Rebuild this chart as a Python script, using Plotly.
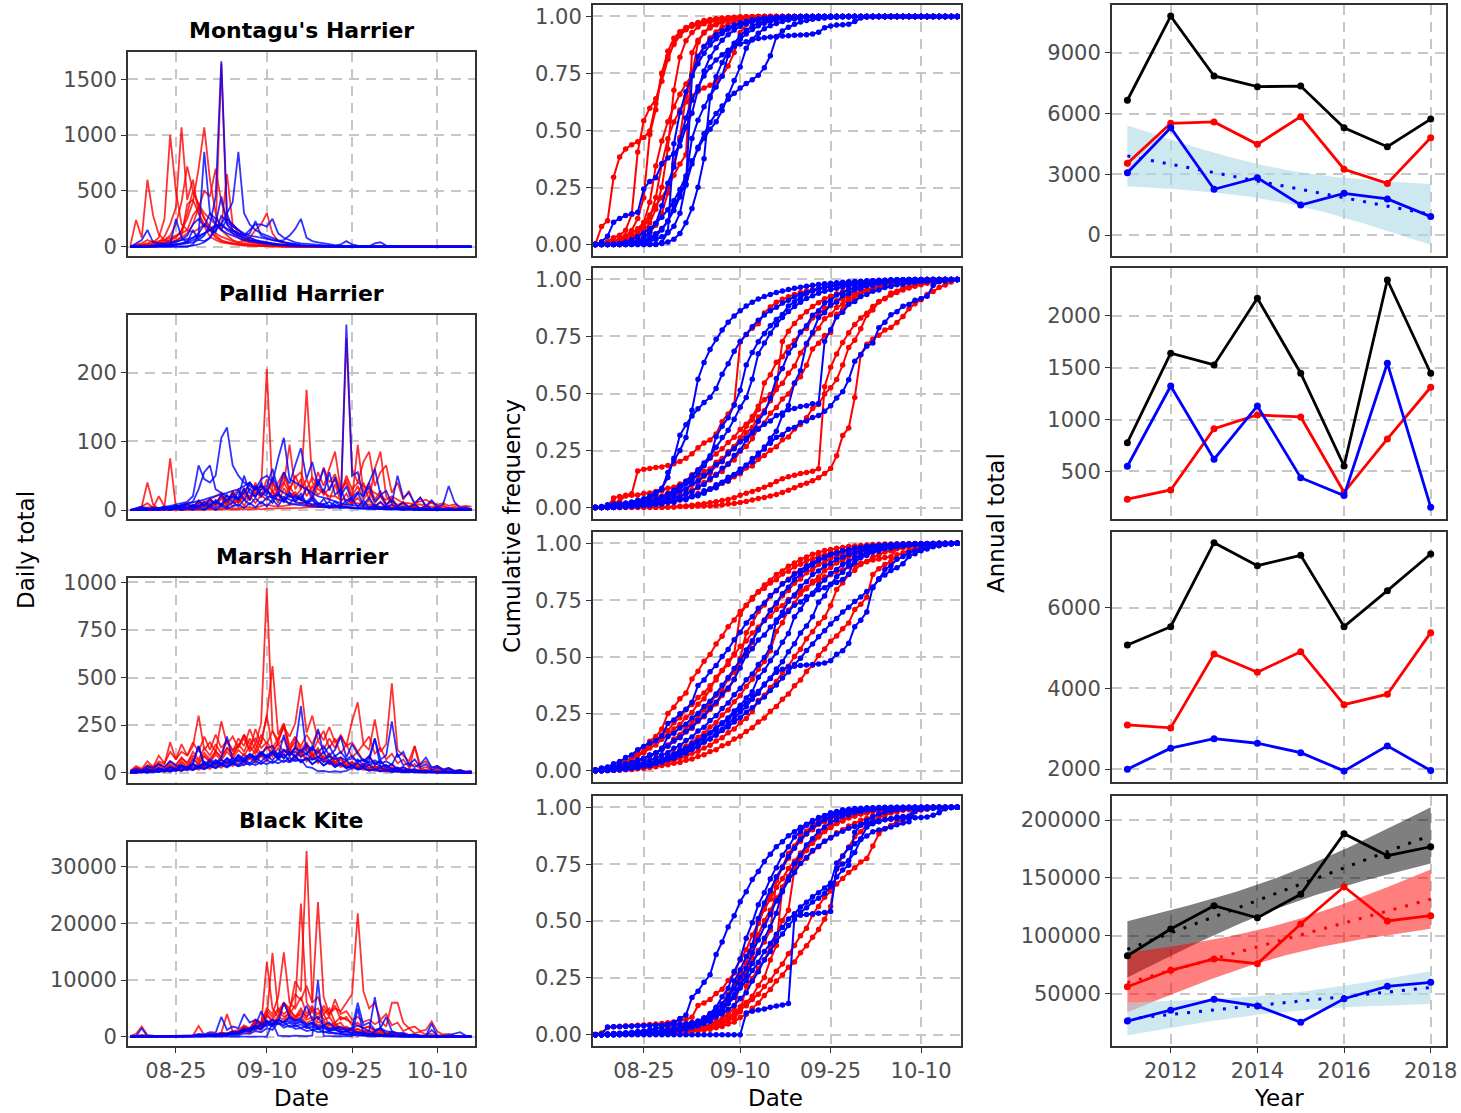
import datetime as dt
import numpy as np
import plotly.graph_objects as go

# ------------------------------------------------------------------ data
SPECIES = ["Montagu's Harrier", "Pallid Harrier", "Marsh Harrier", "Black Kite"]
YEARS = [2011, 2012, 2013, 2014, 2015, 2016, 2017, 2018]
FIRST_DAY = dt.date(2019, 8, 17)
N_DAYS = 61
DATE_TICKS = ["2019-08-25", "2019-09-10", "2019-09-25", "2019-10-10"]
DATE_TICK_TEXT = ["08-25", "09-10", "09-25", "10-10"]
YEAR_TICKS = [2012, 2014, 2016, 2018]
DAILY_YTICKS = [[0, 500, 1000, 1500], [0, 100, 200], [0, 250, 500, 750, 1000], [0, 10000, 20000, 30000]]
CUM_YTICKS = [0, 0.25, 0.5, 0.75, 1.0]
ANNUAL_YTICKS = [[0, 3000, 6000, 9000], [500, 1000, 1500, 2000], [2000, 4000, 6000], [50000, 100000, 150000, 200000]]

# daily counts, Aug 17 .. Oct 16 (one list per year)
MONTAGU_RED = [
    [10,240,80,600,280,110,60,40,60,90, 380,420,300,180,90,60,40,30,25,15, 10,8,6,5,4,3,2,2,1,1, 0,1,0,0,0,0,0,0,0,0, 0,0,0,0,0,0,0,0,0,0, 0,0,0,0,0,0,0,0,0,0,0],
    [0,20,30,60,40,80,250,1000,500,200, 150,280,350,260,150,80,50,40,30,20, 15,10,8,6,5,4,3,2,1,1, 1,0,0,0,0,0,0,0,0,0, 0,0,0,0,0,0,0,0,0,0, 0,0,0,0,0,0,0,0,0,0,0],
    [0,10,20,30,50,40,90,200,350,1070, 420,600,300,200,150,100,60,40,30,25, 20,15,10,8,5,4,3,2,2,1, 0,0,0,0,0,0,0,0,0,0, 0,0,0,0,0,0,0,0,0,0, 0,0,0,0,0,0,0,0,0,0,0],
    [0,5,10,20,15,30,60,100,200,400, 720,500,380,300,250,200,180,650,200,120, 60,40,30,20,15,10,8,5,3,2, 1,1,0,0,0,0,0,0,0,0, 0,0,0,0,0,0,0,0,0,0, 0,0,0,0,0,0,0,0,0,0,0],
    [0,0,5,10,20,30,40,60,80,150, 250,400,700,1070,600,300,150,100,60,40, 30,20,15,10,8,5,3,2,1,1, 0,0,0,0,0,0,0,0,0,0, 0,0,0,0,0,0,0,0,0,0, 0,0,0,0,0,0,0,0,0,0,0],
    [0,0,0,5,10,15,20,30,50,80, 120,200,350,500,450,700,400,250,200,150, 100,80,60,40,30,20,15,10,5,3, 2,1,1,0,0,0,0,0,0,0, 0,0,0,0,0,0,0,0,0,0, 0,0,0,0,0,0,0,0,0,0,0],
    [0,5,10,15,20,25,40,60,90,140, 300,500,380,250,180,120,90,70,50,40, 60,80,150,200,300,120,50,30,20,10, 5,3,2,1,1,0,0,0,0,0, 0,0,0,0,0,0,0,0,0,0, 0,0,0,0,0,0,0,0,0,0,0],
    [0,5,10,20,30,50,60,80,100,120, 150,130,160,200,180,150,1640,200,120,80, 50,40,30,20,15,10,8,5,3,2, 1,1,0,0,0,0,0,0,0,0, 0,0,0,0,0,0,0,0,0,0, 0,0,0,0,0,0,0,0,0,0,0],
]
MONTAGU_BLUE = [
    [0,0,0,0,0,0,5,10,15,20, 30,40,60,100,200,450,1660,300,150,100, 80,60,50,40,30,25,20,15,10,8, 6,5,4,3,2,2,1,1,0,0, 0,0,0,0,0,0,0,0,0,0, 0,0,0,0,0,0,0,0,0,0,0],
    [0,0,0,0,0,0,0,0,0,0, 0,20,100,850,300,200,150,120,100,80, 60,50,40,30,25,20,15,10,8,5, 4,3,2,1,1,0,0,0,0,0, 0,0,0,0,0,0,0,0,0,0, 0,0,0,0,0,0,0,0,0,0,0],
    [0,0,0,0,0,0,0,0,0,0, 5,10,20,40,80,150,200,300,400,850, 300,200,150,120,100,80,60,40,30,20, 15,10,8,5,3,2,1,1,0,0, 0,0,0,0,0,0,0,0,0,0, 0,0,0,0,0,0,0,0,0,0,0],
    [0,30,60,150,40,30,20,15,250,80, 40,150,60,50,80,200,150,250,200,150, 100,80,60,50,40,30,20,15,10,8, 6,5,4,3,2,1,1,0,0,0, 0,0,0,0,0,0,0,0,0,0, 0,0,0,0,0,0,0,0,0,0,0],
    [0,0,0,0,0,5,10,15,20,30, 40,60,80,120,150,200,450,200,150,120, 100,120,230,100,80,60,50,40,30,20, 15,10,8,6,5,4,3,2,1,1, 0,0,0,0,0,0,0,0,0,0, 0,0,0,0,0,0,0,0,0,0,0],
    [0,0,0,5,10,20,30,40,50,60, 70,80,100,120,150,180,200,160,140,120, 100,150,200,200,180,250,120,80,60,40, 30,25,20,15,10,8,5,4,3,2, 1,1,0,0,0,0,0,0,0,0, 0,0,0,0,0,0,0,0,0,0,0],
    [0,0,0,0,0,0,5,10,20,30, 50,80,120,200,150,130,280,220,180,150, 120,100,90,80,70,60,50,60,100,160, 250,80,50,40,30,20,15,10,8,6, 5,4,3,2,1,0,0,0,0,0, 0,0,0,0,0,0,0,0,0,0,0],
    [0,0,0,0,0,5,10,20,40,60, 100,200,250,180,300,250,200,150,120,100, 80,60,50,40,30,25,20,15,10,8, 6,5,4,3,3,4,8,20,50,20, 10,5,4,30,40,10,5,2,1,0, 0,0,0,0,0,0,0,0,0,0,0],
]
PALLID_RED = [
    [0,2,5,10,3,20,5,75,5,3, 3,2,5,5,8,10,15,20,15,10, 20,40,25,30,205,25,20,15,35,20, 15,10,8,8,6,5,5,4,4,3, 3,3,2,2,2,2,1,1,1,1, 1,1,1,0,0,1,0,0,0,0,0],
    [0,0,0,0,0,0,0,0,0,0, 0,0,1,1,2,1,2,3,2,3, 3,4,3,5,8,6,5,6,7,8, 10,8,6,5,5,3,4,8,250,60, 40,35,30,25,20,15,20,15,10,10, 8,8,6,5,5,4,3,3,2,2,2],
    [0,0,0,0,0,1,0,0,0,0, 0,0,0,0,1,0,0,1,0,0, 1,1,2,1,2,2,3,3,2,3, 3,4,4,5,5,4,5,6,8,10, 25,40,15,60,85,20,10,8,10,5, 10,12,15,10,8,10,6,8,5,6,5],
    [0,1,2,3,5,2,4,3,6,5, 8,6,10,12,15,20,25,15,20,30, 15,20,25,20,30,20,30,40,25,20, 30,175,40,30,25,20,20,15,15,10, 10,8,8,6,5,5,4,3,3,2, 2,2,2,1,1,1,1,1,0,0,0],
    [0,0,2,0,3,1,5,1,6,2, 9,3,12,5,16,6,22,10,28,12, 30,15,40,20,45,25,40,55,28,50, 30,45,25,55,35,60,85,30,40,15, 95,25,40,15,28,8,18,5,12,3, 8,2,6,1,4,1,3,1,1,0,1],
    [0,0,0,2,0,3,0,4,1,4, 2,7,3,9,2,12,4,15,5,18, 6,20,10,22,14,28,10,32,18,26, 16,34,14,38,22,32,45,20,50,30, 40,70,85,35,55,65,25,40,15,28, 8,18,5,12,3,7,2,5,1,3,1],
    [0,1,5,40,8,2,4,1,7,2, 8,3,12,5,16,8,20,6,26,12, 32,18,22,36,28,40,24,50,30,48, 55,30,48,35,62,40,52,28,45,20, 35,15,28,10,20,6,14,4,10,2, 7,2,5,1,4,1,3,0,2,0,1],
    [0,0,2,0,3,0,5,1,6,2, 8,2,10,4,15,6,20,5,24,10, 28,14,36,18,32,42,22,38,95,30, 45,20,35,22,30,14,38,12,24,8, 18,6,14,5,11,4,8,2,6,2, 5,1,4,1,3,1,2,0,1,0,1],
]
PALLID_BLUE = [
    [0,2,3,2,1,3,4,6,8,10, 12,20,65,45,40,50,105,120,65,50, 40,35,30,25,20,18,15,12,10,8, 7,6,6,5,4,4,3,3,3,2, 2,2,2,1,1,1,1,1,1,1, 1,0,1,0,0,0,0,0,0,0,0],
    [0,0,2,0,3,1,5,2,7,3, 9,4,14,6,16,9,22,12,25,15, 32,14,35,20,30,16,26,12,22,14, 24,10,14,6,9,3,8,2,270,50, 55,20,35,12,22,8,15,5,11,4, 8,2,6,2,4,1,3,1,2,1,1],
    [0,1,0,2,3,2,4,3,5,6, 8,10,12,15,18,20,22,25,28,30, 35,40,30,45,50,40,75,105,45,40, 35,30,25,20,18,15,12,10,8,7, 6,5,5,4,4,3,3,2,2,2, 1,1,1,1,1,1,0,0,0,0,0],
    [0,0,0,2,0,3,0,5,1,7, 3,8,4,12,4,15,8,22,10,28, 14,32,18,40,22,48,30,55,38,65, 90,45,70,35,60,28,48,20,35,12, 25,8,18,5,12,3,8,2,5,1, 3,1,2,0,1,0,1,0,0,0,0],
    [0,0,0,0,2,0,2,0,3,0, 4,1,6,1,8,3,9,4,12,5, 15,8,17,9,18,10,24,12,26,12, 20,8,18,6,16,5,12,6,14,18, 26,20,40,60,22,28,10,50,18,25, 10,18,6,14,5,8,35,12,3,4,1],
    [0,3,5,2,1,2,3,5,4,8, 10,12,30,55,65,30,25,20,18,15, 25,40,30,35,28,20,22,18,15,12, 10,12,8,10,6,5,6,4,5,3, 3,3,2,2,2,1,1,1,1,1, 1,1,0,1,0,0,0,0,0,0,0],
    [0,0,1,0,2,1,2,1,3,2, 4,5,6,8,10,12,8,15,20,18, 50,25,20,30,35,60,30,25,20,18, 15,12,20,10,8,12,6,5,4,3, 3,2,2,2,1,1,1,1,0,1, 0,0,1,0,0,0,0,0,0,0,0],
    [0,0,0,2,0,0,2,0,2,0, 2,0,3,0,5,0,6,2,5,8, 3,10,4,12,5,15,6,18,8,22, 14,32,20,45,25,55,22,30,10,16, 5,14,3,8,2,6,1,4,1,3, 0,2,0,1,0,1,0,0,0,0,0],
]
MARSH_RED = [
    [10,35,20,60,30,90,50,110,70,150, 90,160,110,190,120,200,130,170,110,180, 140,230,150,260,970,220,150,180,90,130, 80,140,70,110,60,90,40,70,30,50, 25,40,20,30,15,20,10,15,8,10, 6,8,4,5,3,4,2,3,2,2,1],
    [5,15,10,30,20,45,25,60,40,80, 50,110,70,130,90,150,100,170,120,140, 180,120,230,150,300,560,200,260,140,190, 120,160,90,130,70,100,50,80,40,55, 35,45,25,30,20,22,12,15,8,10, 6,7,4,5,3,3,2,2,1,1,1],
    [0,8,3,18,6,25,12,40,20,50, 30,75,45,90,60,110,80,130,95,150, 110,180,120,200,150,220,170,240,190,260, 460,210,300,170,220,130,180,100,150,80, 110,60,90,45,60,30,45,20,30,15, 20,10,14,6,9,4,5,3,3,1,1],
    [0,0,8,3,14,6,20,10,28,15, 35,20,45,30,55,38,70,45,80,60, 100,70,120,85,140,100,160,250,120,180, 140,200,150,220,170,240,160,190,140,270, 370,150,190,100,130,70,100,50,70,30, 45,20,30,12,20,8,12,5,8,3,4],
    [0,0,0,6,2,12,5,14,8,20, 12,28,15,30,20,45,25,55,35,65, 40,80,50,90,60,100,75,120,85,140, 100,150,110,170,120,180,130,200,140,160, 110,150,120,280,110,150,470,120,90,60, 140,40,60,25,35,15,25,10,15,6,8],
    [10,25,15,40,30,60,45,160,70,110, 90,140,300,120,160,110,270,150,190,130, 200,150,180,130,160,120,150,110,130,90, 110,70,90,60,70,45,55,30,40,20, 25,15,18,10,12,6,8,4,5,3, 3,2,2,1,1,1,0,1,0,0,0],
    [5,15,8,25,12,35,18,45,25,60, 35,70,45,85,55,95,65,110,75,120, 90,140,100,160,300,130,180,250,120,160, 100,140,85,120,70,100,55,80,40,60, 30,45,22,35,15,25,10,18,6,12, 4,8,3,5,2,3,1,2,1,1,1],
    [10,25,15,35,20,50,30,60,40,75, 50,90,60,105,70,115,80,130,90,140, 200,110,150,95,140,85,130,75,120,70, 110,60,100,50,90,45,75,40,60,35, 50,30,45,25,35,20,30,15,25,10, 140,20,15,10,8,6,5,4,3,2,2],
]
MARSH_BLUE = [
    [0,8,2,14,5,20,10,28,15,35, 20,45,28,55,35,65,45,75,50,85, 60,95,70,105,80,110,75,120,90,130, 350,100,140,80,110,60,90,45,65,35, 50,25,40,18,28,12,20,8,14,5, 8,4,6,2,4,2,3,1,2,1,1],
    [0,0,8,2,12,5,15,8,20,10, 28,15,35,20,40,25,48,30,52,35, 58,40,62,45,68,50,72,55,80,60, 70,30,25,8,10,3,8,4,10,25, 70,40,80,180,70,90,270,80,110,40, 70,30,45,15,28,10,18,6,12,4,5],
    [10,20,12,35,25,45,30,60,35,40, 25,55,140,40,70,50,80,190,60,95, 70,100,80,110,85,105,70,95,60,85, 55,75,45,65,38,55,30,45,22,35, 15,25,10,18,6,12,5,8,3,5, 2,4,1,3,1,2,1,1,0,1,0],
    [0,4,1,8,3,14,6,20,10,28, 15,35,22,45,30,55,38,65,45,75, 55,85,65,95,75,105,85,200,95,130, 110,145,120,230,100,140,85,110,70,90, 55,70,40,55,30,40,20,28,12,18, 8,12,5,7,3,4,2,3,1,1,1],
    [0,0,5,1,8,3,14,6,20,10, 26,15,32,20,40,28,50,35,60,42, 70,50,80,58,90,66,100,75,110,85, 120,95,130,105,140,90,120,190,80,150, 100,60,85,40,65,25,45,15,30,10, 18,6,12,4,7,2,4,2,2,1,1],
    [5,12,6,20,10,25,14,30,20,38, 25,48,32,58,40,68,48,78,55,90, 65,95,70,100,130,140,80,100,60,90, 55,80,45,70,38,60,30,50,25,40, 20,35,60,180,30,40,15,25,10,15, 6,10,4,6,2,4,2,3,1,1,1],
    [0,0,4,1,8,3,12,6,16,10, 22,14,28,18,34,24,40,28,46,34, 42,50,40,55,45,60,50,65,55,70, 62,75,68,80,70,85,72,80,65,75, 60,70,52,65,48,60,42,100,40,50, 30,45,80,28,35,18,25,10,14,5,8],
    [5,12,6,18,10,22,14,30,18,35, 22,45,140,35,58,42,68,50,78,58, 80,95,85,100,90,115,100,120,105,110, 85,100,70,85,55,65,40,50,28,35, 18,25,12,18,8,12,5,8,3,5, 2,3,1,2,1,1,1,1,0,0,0],
]
KITE_RED = [
    [0,50,200,100,50,60,80,60,120,90, 150,100,250,180,400,300,700,450,900,600, 1500,900,2500,1800,4000,2500,3500,6000,4500,9800, 8000,32800,6000,7000,4000,5000,2500,3500,3000,2500, 2000,1500,1800,1000,1200,600,900,400,500,200, 300,150,200,100,80,50,60,20,10,0,0],
    [0,0,100,50,60,40,80,50,100,80, 150,120,250,200,400,300,600,500,900,800, 1500,1200,2500,2000,13200,5000,3500,6000,4000,5500, 23500,6000,4500,5000,3000,3500,2000,2500,1200,1500, 800,1000,600,700,400,500,250,300,150,100, 150,80,100,50,60,30,20,10,10,0,0],
    [0,100,300,200,100,60,40,60,50,80, 100,80,150,120,250,200,400,350,700,600, 1200,1000,2000,1800,3500,14800,4500,6000,5000,7500, 6500,9000,6000,23800,7000,4000,5500,3000,3500,2000, 2500,1500,1800,1000,1200,600,800,400,500,200, 250,100,150,60,80,40,50,20,10,10,0],
    [0,0,50,100,50,40,60,30,80,50, 100,80,150,120,250,200,400,300,600,500, 900,700,1500,1200,2500,2000,3500,3000,4500,3500, 5000,3500,4500,3000,5500,4000,5000,4500,6000,7500, 21800,8000,5000,6000,3000,4000,2000,2500,1000,1500, 600,900,400,500,200,300,100,150,50,30,20],
    [0,0,100,150,100,80,60,100,80,120, 150,200,1900,300,400,350,600,500,900,800, 1500,1200,3000,2500,5000,4000,7000,14900,6000,5000, 7000,4000,5500,3000,4000,2000,2500,1200,1500,800, 900,500,600,300,400,200,250,100,150,50, 80,50,40,20,10,10,0,0,0,0,0],
    [0,50,100,60,80,50,100,60,120,80, 150,120,250,200,400,300,500,400,700,600, 1200,900,1800,1400,2500,2000,3000,2500,3800,3000, 4500,3500,5000,4000,4800,3600,6600,4000,4500,3000, 3500,2600,3000,2200,2800,1800,6000,6000,2500,1500, 1800,1000,1200,2700,900,400,500,200,100,50,20],
    [100,500,1800,300,200,100,80,120,100,150, 200,150,300,250,500,400,700,4000,900,1200, 2000,1500,3000,2500,4500,3500,5000,4000,4800,3500, 4000,3000,3500,2500,2800,2000,2200,1500,1800,1200, 1400,900,1000,600,700,400,500,250,300,150, 200,100,120,60,80,40,50,20,10,10,5],
    [0,0,0,50,80,60,100,80,150,120, 200,150,300,250,500,400,700,600,1000,900, 1800,1400,2800,2200,3800,3000,4500,3500,4000,3000, 3500,2400,3000,2000,2500,1500,2000,1300,1600,1100, 1300,900,1100,700,900,500,700,400,500,300, 400,200,250,100,150,80,60,40,20,10,0],
]
KITE_BLUE = [
    [0,0,50,100,60,80,50,100,60,120, 100,150,120,250,200,400,300,600,500,900, 1200,1000,1800,1500,2500,2000,3000,2600,3500,2800, 3200,5500,3000,3500,2000,2500,1500,1800,1000,1200, 600,800,400,500,250,300,150,200,80,100, 50,60,30,20,10,10,0,0,0,0,0],
    [0,0,0,0,0,0,0,0,0,0, 0,0,0,0,0,0,0,0,0,0, 0,0,0,0,0,2500,200,150,100,200, 150,100,200,10000,150,100,80,60,80,100, 5000,500,400,900,1500,400,500,200,150,200, 250,200,150,1200,200,100,60,40,30,20,10],
    [0,100,1500,50,50,30,60,40,50,30, 60,40,80,60,120,100,200,150,300,250, 600,500,1000,800,1500,1200,2500,2000,2500,1800, 2200,1500,1800,1300,1500,1000,1200,800,1000,1500, 2000,1500,1000,7000,1500,1000,800,600,400,300, 200,150,100,80,60,40,30,20,10,10,0],
    [0,0,0,0,50,30,60,40,80,60, 100,80,150,120,250,200,400,300,600,500, 1000,1500,2000,4500,2500,3000,2500,6000,3500,2800, 3000,2200,2500,1800,2000,1200,1500,800,900,500, 600,300,400,200,250,100,150,60,80,30, 40,10,20,0,0,0,0,0,0,0,0],
    [0,50,100,80,60,100,80,150,120,200, 300,250,500,400,800,700,3500,1200,1800,1500, 4000,2500,3000,2200,2800,2000,2400,1600,2000,1400, 1500,1000,1200,800,900,600,700,400,500,300, 350,200,250,120,150,80,100,50,40,30, 20,20,10,10,0,0,0,0,0,0,0],
    [0,0,0,50,30,60,40,80,60,100, 150,120,250,200,400,300,600,500,900,800, 1500,1200,2000,1800,2800,2200,3000,2500,3200,2400, 2800,2000,2500,1600,2000,1400,1700,1200,1400,1500, 6000,2000,2500,1200,1500,3500,1000,600,700,300, 400,150,200,2300,100,50,40,30,20,10,0],
    [0,0,50,30,60,40,80,50,100,80, 150,100,200,150,300,250,500,400,700,600, 1200,900,1600,1300,2200,1800,3000,2500,2800,2200, 2600,1800,2200,1500,1800,1100,1400,800,1000,600, 800,500,600,350,400,250,300,150,200,100, 120,60,80,40,50,100,300,500,800,200,50],
    [0,0,0,0,0,30,20,50,30,80, 60,120,100,200,150,350,250,500,400,700, 900,1500,1200,2400,1800,3000,2200,2600,1700,2000, 1600,1800,1200,1400,800,900,500,600,300,400, 150,250,80,120,40,60,20,30,10,0, 0,0,0,0,0,0,0,0,0,0,0],
]

# annual totals (black = both, red, blue)
MONTAGU_ANNUAL_TOTAL = [6660, 10820, 7860, 7330, 7360, 5300, 4360, 5730]
MONTAGU_ANNUAL_RED = [3540, 5520, 5590, 4480, 5850, 3250, 2550, 4810]
MONTAGU_ANNUAL_BLUE = [3080, 5300, 2260, 2830, 1480, 2060, 1780, 910]
PALLID_ANNUAL_TOTAL = [777, 1640, 1527, 2171, 1447, 552, 2347, 1447]
PALLID_ANNUAL_RED = [231, 320, 912, 1044, 1025, 298, 813, 1312]
PALLID_ANNUAL_BLUE = [549, 1324, 617, 1131, 439, 266, 1543, 154]
MARSH_ANNUAL_TOTAL = [5076, 5529, 7611, 7041, 7298, 5529, 6421, 7331]
MARSH_ANNUAL_RED = [3093, 3019, 4853, 4399, 4910, 3596, 3854, 5380]
MARSH_ANNUAL_BLUE = [1995, 2516, 2753, 2639, 2406, 1953, 2573, 1961]
KITE_ANNUAL_TOTAL = [82800, 105900, 126000, 115600, 135800, 188200, 169200, 176900]
KITE_ANNUAL_RED = [56000, 70200, 80000, 75900, 110200, 142400, 112800, 117400]
KITE_ANNUAL_BLUE = [26400, 35700, 45200, 39400, 25300, 45700, 56400, 59800]

# which annual series carry a linear trend (lm + 95% CI)
TRENDS = {0: ["blue"], 3: ["total", "red", "blue"]}

DAILY = [(MONTAGU_RED, MONTAGU_BLUE), (PALLID_RED, PALLID_BLUE),
         (MARSH_RED, MARSH_BLUE), (KITE_RED, KITE_BLUE)]
ANNUAL = [
    {"total": MONTAGU_ANNUAL_TOTAL, "red": MONTAGU_ANNUAL_RED, "blue": MONTAGU_ANNUAL_BLUE},
    {"total": PALLID_ANNUAL_TOTAL, "red": PALLID_ANNUAL_RED, "blue": PALLID_ANNUAL_BLUE},
    {"total": MARSH_ANNUAL_TOTAL, "red": MARSH_ANNUAL_RED, "blue": MARSH_ANNUAL_BLUE},
    {"total": KITE_ANNUAL_TOTAL, "red": KITE_ANNUAL_RED, "blue": KITE_ANNUAL_BLUE},
]

for grp in DAILY:
    for lst in grp:
        for s in lst:
            assert len(s) == N_DAYS, len(s)

# ------------------------------------------------------------------ layout geometry
W, H = 1461, 1113
FONT = "DejaVu Sans"
COL_X = [(128, 475), (593, 961), (1112, 1446)]
ROW_Y_LEFT = [(52, 256), (315, 519), (578, 783), (842, 1046)]
ROW_Y = [(5, 256), (268, 519), (532, 782), (796, 1046)]
DATE_RANGE = ["2019-08-16 14:00", "2019-10-16 15:00"]
YEAR_RANGE = [2010.645, 2018.353]
DAILY_RANGES = [[-83, 1744], [-13.1, 283.8], [-54, 1023], [-1640, 34390]]
CUM_RANGE = [-0.05, 1.05]
ANNUAL_RANGES = [[-1038, 11367], [40, 2463], [1678, 7876], [4836, 220725]]

LINE_COL = {"total": "#000000", "red": "#FF0000", "blue": "#0000FF"}
RIBBON_COL = {"total": "rgba(0,0,0,0.5)", "red": "rgba(255,0,0,0.5)", "blue": "rgba(173,216,230,0.6)"}
T975_DF6 = 2.446912


def xd(px):
    return px / W


def yd(py):
    return 1 - py / H


def lm_band(years, values, n=100):
    x = np.asarray(years, float)
    y = np.asarray(values, float)
    b1, b0 = np.polyfit(x, y, 1)
    resid = y - (b0 + b1 * x)
    s = np.sqrt((resid ** 2).sum() / (len(x) - 2))
    xs = np.linspace(x.min(), x.max(), n)
    fit = b0 + b1 * xs
    se = s * np.sqrt(1 / len(x) + (xs - x.mean()) ** 2 / ((x - x.mean()) ** 2).sum())
    return xs, fit, fit - T975_DF6 * se, fit + T975_DF6 * se


DATES = [(FIRST_DAY + dt.timedelta(days=i)).isoformat() for i in range(N_DAYS)]

fig = go.Figure()
layout = {}

axis_common = dict(
    showline=True, mirror=True, linecolor="#333333", linewidth=2,
    showgrid=True, gridcolor="#C6C6C6", gridwidth=1.6, griddash="10px,7px",
    zeroline=False, ticklen=5, tickwidth=1.4, tickcolor="#333333", automargin=False,
    tickfont=dict(family=FONT, size=21, color="#4D4D4D"),
)

for r in range(4):
    for c in range(3):
        k = r * 3 + c + 1
        xname = "x" if k == 1 else f"x{k}"
        yname = "y" if k == 1 else f"y{k}"
        xkey = "xaxis" if k == 1 else f"xaxis{k}"
        ykey = "yaxis" if k == 1 else f"yaxis{k}"
        x0, x1 = COL_X[c]
        y0, y1 = (ROW_Y_LEFT if c == 0 else ROW_Y)[r]
        last = r == 3
        xa = dict(axis_common, domain=[xd(x0), xd(x1)], anchor=yname,
                  ticks="outside" if last else "", showticklabels=last)
        ya = dict(axis_common, domain=[yd(y1), yd(y0)], anchor=xname, ticks="outside")
        if c < 2:
            xa.update(type="date", range=DATE_RANGE, tickvals=DATE_TICKS, ticktext=DATE_TICK_TEXT)
        else:
            xa.update(range=YEAR_RANGE, tickvals=YEAR_TICKS, ticktext=[str(v) for v in YEAR_TICKS])
        if c == 0:
            ya.update(range=DAILY_RANGES[r], tickvals=DAILY_YTICKS[r],
                      ticktext=[str(v) for v in DAILY_YTICKS[r]])
        elif c == 1:
            ya.update(range=CUM_RANGE, tickvals=CUM_YTICKS, ticktext=[f"{v:.2f}" for v in CUM_YTICKS])
        else:
            ya.update(range=ANNUAL_RANGES[r], tickvals=ANNUAL_YTICKS[r],
                      ticktext=[str(v) for v in ANNUAL_YTICKS[r]])
        layout[xkey] = xa
        layout[ykey] = ya

        if c == 0:
            red, blue = DAILY[r]
            for series, col in [(red, "rgba(255,0,0,0.8)"), (blue, "rgba(0,0,255,0.8)")]:
                for s in series:
                    fig.add_trace(go.Scatter(x=DATES, y=s, mode="lines",
                                             line=dict(color=col, width=1.8),
                                             xaxis=xname, yaxis=yname,
                                             showlegend=False, hoverinfo="skip"))
        elif c == 1:
            red, blue = DAILY[r]
            for series, col in [(red, "#FF0000"), (blue, "#0000FF")]:
                for s in series:
                    arr = np.asarray(s, float)
                    cum = np.cumsum(arr) / arr.sum()
                    fig.add_trace(go.Scatter(x=DATES, y=cum, mode="lines+markers",
                                             line=dict(color=col, width=2),
                                             marker=dict(color=col, size=5.5),
                                             xaxis=xname, yaxis=yname,
                                             showlegend=False, hoverinfo="skip"))
        else:
            ann = ANNUAL[r]
            trend_keys = TRENDS.get(r, [])
            bands = {key: lm_band(YEARS, ann[key]) for key in trend_keys}
            for key in trend_keys:
                xs, fit, lo, hi = bands[key]
                fig.add_trace(go.Scatter(x=list(xs) + list(xs[::-1]), y=list(hi) + list(lo[::-1]),
                                         mode="lines", fill="toself", fillcolor=RIBBON_COL[key],
                                         line=dict(width=0), xaxis=xname, yaxis=yname,
                                         showlegend=False, hoverinfo="skip"))
            for key in trend_keys:
                xs, fit, lo, hi = bands[key]
                fig.add_trace(go.Scatter(x=xs, y=fit, mode="lines",
                                         line=dict(color=LINE_COL[key], width=3, dash="3px,9px"),
                                         xaxis=xname, yaxis=yname,
                                         showlegend=False, hoverinfo="skip"))
            for key in ["total", "red", "blue"]:
                fig.add_trace(go.Scatter(x=YEARS, y=ann[key], mode="lines+markers",
                                         line=dict(color=LINE_COL[key], width=2.8),
                                         marker=dict(color=LINE_COL[key], size=7),
                                         xaxis=xname, yaxis=yname,
                                         showlegend=False, hoverinfo="skip"))

annotations = []
title_y = [30, 293, 556, 820]
for r, name in enumerate(SPECIES):
    annotations.append(dict(x=xd(301.5), y=yd(title_y[r]), xref="paper", yref="paper",
                            text=f"<b>{name}</b>", showarrow=False,
                            font=dict(family=FONT, size=22, color="#000000"),
                            xanchor="center", yanchor="middle"))
axis_titles = [
    ("Daily total", 26, 550, -90),
    ("Cumulative frequency", 512, 526, -90),
    ("Annual total", 996, 523, -90),
    ("Date", 301, 1098, 0),
    ("Date", 776, 1098, 0),
    ("Year", 1279, 1098, 0),
]
for text, px, py, ang in axis_titles:
    annotations.append(dict(x=xd(px), y=yd(py), xref="paper", yref="paper", text=text,
                            showarrow=False, textangle=ang,
                            font=dict(family=FONT, size=23, color="#000000"),
                            xanchor="center", yanchor="middle"))

fig.update_layout(**layout)
fig.update_layout(width=W, height=H, margin=dict(l=0, r=0, t=0, b=0, pad=0, autoexpand=False),
                  paper_bgcolor="white", plot_bgcolor="white",
                  annotations=annotations, showlegend=False,
                  font=dict(family=FONT))
fig.write_html("out.html")
